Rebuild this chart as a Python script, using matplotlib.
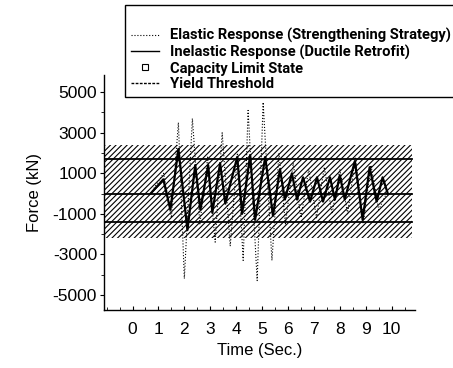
import matplotlib
matplotlib.use('Agg')
import matplotlib.pyplot as plt
from matplotlib.lines import Line2D
from matplotlib.patches import Rectangle
from matplotlib.ticker import MultipleLocator

plt.rcParams['axes.unicode_minus'] = False
plt.rcParams['hatch.linewidth'] = 0.8

# ---- data ----
inel_t = [0.7, 1.19, 1.46, 1.77, 2.12, 2.42, 2.62, 2.92, 3.08, 3.38, 3.58, 4.04, 4.23,
          4.54, 4.73, 5.12, 5.42, 5.69, 5.88, 6.15, 6.35, 6.58, 6.85, 7.12, 7.35, 7.62,
          7.81, 8.0, 8.19, 8.58, 8.88, 9.15, 9.42, 9.65, 9.85]
inel_f = [0, 700, -800, 2200, -1800, 1400, -800, 1400, -950, 1500, -500, 1800, -1000,
          1900, -1300, 1800, -1100, 1200, -300, 1000, -300, 800, -400, 800, -400, 800,
          -300, 900, -300, 1600, -1300, 1300, -400, 800, 0]

el_t = [0.7, 1.2, 1.5, 1.77, 2.0, 2.31, 2.6, 2.9, 3.19, 3.46, 3.77, 4.05, 4.27, 4.46,
        4.81, 5.04, 5.38, 5.65, 5.9, 6.2, 6.5, 6.8, 7.1, 7.4, 7.7, 8.0, 8.3, 8.6, 8.9,
        9.2, 9.5, 9.8]
el_f = [0, 1000, -1200, 3500, -4200, 3700, -1500, 1800, -2400, 3000, -2600, 2000, -3300,
        4100, -4300, 4500, -3300, 2000, -1500, 1500, -1200, 1200, -1200, 1300, -1000,
        1200, -1000, 1800, -1500, 1400, -800, 0]

yield_levels = [1700, 0, -1400]
band_upper = 2400
band_lower = -2200
band_t = [-1.1, 10.8]
xticks = list(range(0, 11))
yticks = [-5000, -3000, -1000, 1000, 3000, 5000]
legend_labels = ["Elastic Response (Strengthening Strategy)",
                 "Inelastic Response (Ductile Retrofit)",
                 "Capacity Limit State",
                 "Yield Threshold"]

W, H = 453, 368
fig = plt.figure(figsize=(W / 100, H / 100), dpi=100)
ax = fig.add_axes([104 / W, 58 / H, 311 / W, 235 / H])

tick_font = ['Liberation Sans', 'DejaVu Sans']
leg_font = ['Roboto', 'Liberation Sans', 'DejaVu Sans']

# hatched band
ax.fill_between(band_t, band_lower, band_upper, facecolor='none',
                edgecolor='black', hatch='//////', linewidth=0)

# threshold lines
for lv in yield_levels:
    ax.plot(band_t, [lv, lv], color='black', linewidth=1.3)

ax.plot(el_t, el_f, color='black', linestyle=':', linewidth=0.8)
ax.plot(inel_t, inel_f, color='black', linewidth=1.6)

ax.set_xlim(-1.1, 10.9)
ax.set_ylim(-5750, 5850)
ax.set_xticks(xticks)
ax.set_yticks(yticks)
ax.xaxis.set_minor_locator(MultipleLocator(0.5))
ax.yaxis.set_minor_locator(MultipleLocator(1000))
for s in ['top', 'right']:
    ax.spines[s].set_visible(False)
for s in ['left', 'bottom']:
    ax.spines[s].set_linewidth(1.0)
ax.tick_params(axis='x', direction='in', length=3, width=0.8, pad=9, labelsize=12.5)
ax.tick_params(axis='x', which='minor', direction='in', length=2, width=0.6)
ax.tick_params(axis='y', direction='out', length=3, width=0.8, pad=2, labelsize=12.5)
ax.tick_params(axis='y', which='minor', direction='out', length=2, width=0.6)
for lab in ax.get_xticklabels() + ax.get_yticklabels():
    lab.set_family(tick_font)

ax.set_xlabel("Time (Sec.)", family=tick_font, fontsize=12, labelpad=4)
ax.set_ylabel("Force (kN)", family=tick_font, fontsize=12, labelpad=8)

# legend
handles = [Line2D([], [], color='black', linestyle=':', linewidth=0.8),
           Line2D([], [], color='black', linewidth=1.0),
           Line2D([], [], color='black', linestyle='none', marker='s',
                  markerfacecolor='white', markersize=5, markeredgewidth=0.8),
           Line2D([], [], color='black', linestyle=(0, (2, 1)), linewidth=1.0)]
fig.add_artist(Rectangle((125 / W, 1 - 97 / H), 400 / W, 92 / H,
                         transform=fig.transFigure, facecolor='white',
                         edgecolor='black', linewidth=1.0, clip_on=False))
leg = fig.legend(handles, legend_labels, loc='upper left',
                 bbox_to_anchor=(131 / W, 1 - 28 / H), frameon=False,
                 prop={'family': leg_font, 'weight': 'bold', 'size': 10.6},
                 handlelength=1.9, handletextpad=0.75, labelspacing=0.12,
                 borderpad=0, borderaxespad=0)

fig.savefig('out.png', dpi=100)
